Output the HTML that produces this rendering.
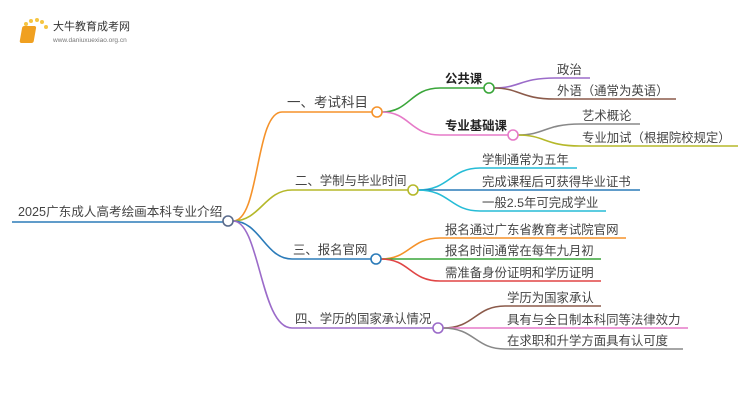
<!DOCTYPE html>
<html><head><meta charset="utf-8"><style>
body{margin:0;background:#fff;width:750px;height:410px;overflow:hidden}
text{font-family:"Liberation Sans","Noto Sans CJK SC",sans-serif;font-size:12.4px;fill:#444}
</style></head><body>
<svg width="750" height="410" viewBox="0 0 750 410" fill="none" stroke-width="1.6">
<!-- logo -->
<g>
<circle cx="24" cy="29" r="1.5" fill="#f5c542"/><circle cx="26" cy="24" r="2" fill="#f5c542"/><circle cx="31" cy="21" r="2" fill="#f5c542"/><circle cx="37" cy="20" r="2" fill="#f5c542"/><circle cx="42" cy="22" r="2" fill="#f5c542"/><circle cx="46" cy="27" r="2" fill="#f5c542"/>
<rect x="27" y="26" width="14" height="17" rx="2" fill="#f0a020" transform="skewX(-10)"/>
<text x="53" y="30" style="font-size:11px;fill:#333">大牛教育成考网</text>
<text x="53" y="42" style="font-size:6.5px;fill:#777">www.daniuxuexiao.org.cn</text>
</g>
<!-- root -->
<text x="18" y="216" style="font-size:12.6px">2025广东成人高考绘画本科专业介绍</text>
<path d="M12 222H223" stroke="#2b7bb9"/>
<!-- main branches -->
<path d="M233 221C260 221 255 112 282 112H372" stroke="#f5922a"/>
<path d="M233 221C260 221 265 190 292 190H408" stroke="#b5b82a"/>
<path d="M233 221C260 221 265 259 292 259H371" stroke="#2b7bb9"/>
<path d="M233 221C260 221 260 328 292 328H433" stroke="#9b6bc9"/>
<circle cx="228" cy="221" r="5" stroke="#5a6b8c" fill="#fff"/>
<text x="287" y="107" style="font-size:13.5px">一、考试科目</text>
<text x="295" y="185">二、学制与毕业时间</text>
<text x="293" y="254">三、报名官网</text>
<text x="295" y="323">四、学历的国家承认情况</text>
<!-- branch 1 -->
<path d="M382 112C410 112 410 88 440 88H484" stroke="#3aa63a"/>
<path d="M382 112C410 112 410 135 440 135H508" stroke="#e67ac8"/>
<circle cx="377" cy="112" r="5" stroke="#f5922a" fill="#fff"/>
<text x="445" y="83" style="font-weight:bold;fill:#222">公共课</text>
<text x="445" y="130" style="font-weight:bold;fill:#222">专业基础课</text>
<path d="M494 88C520 88 520 78 555 78H590" stroke="#9b6bc9"/>
<path d="M494 88C520 88 520 99 555 99H676" stroke="#8b5a4a"/>
<circle cx="489" cy="88" r="5" stroke="#3aa63a" fill="#fff"/>
<text x="557" y="74">政治</text>
<text x="557" y="95">外语（通常为英语）</text>
<path d="M518 135C545 135 545 124 580 124H640" stroke="#888"/>
<path d="M518 135C545 135 545 146 580 146H738" stroke="#b5b82a"/>
<circle cx="513" cy="135" r="5" stroke="#e67ac8" fill="#fff"/>
<text x="582" y="120">艺术概论</text>
<text x="582" y="142">专业加试（根据院校规定）</text>
<!-- branch 2 -->
<path d="M418 190C450 190 450 168 480 168H577" stroke="#26bcd6"/>
<path d="M418 190H640" stroke="#2b7bb9"/>
<path d="M418 190C450 190 450 211 480 211H606" stroke="#26bcd6"/>
<circle cx="413" cy="190" r="5" stroke="#b5b82a" fill="#fff"/>
<text x="482" y="164">学制通常为五年</text>
<text x="482" y="186">完成课程后可获得毕业证书</text>
<text x="482" y="207">一般2.5年可完成学业</text>
<!-- branch 3 -->
<path d="M381 259C410 259 410 238 440 238H626" stroke="#f5922a"/>
<path d="M381 259H601" stroke="#3aa63a"/>
<path d="M381 259C410 259 410 281 440 281H601" stroke="#e04545"/>
<circle cx="376" cy="259" r="5" stroke="#2b7bb9" fill="#fff"/>
<text x="445" y="234">报名通过广东省教育考试院官网</text>
<text x="445" y="255">报名时间通常在每年九月初</text>
<text x="445" y="277">需准备身份证明和学历证明</text>
<!-- branch 4 -->
<path d="M443 328C475 328 475 306 505 306H601" stroke="#8b5a4a"/>
<path d="M443 328H688" stroke="#e67ac8"/>
<path d="M443 328C475 328 475 349 505 349H683" stroke="#888"/>
<circle cx="438" cy="328" r="5" stroke="#9b6bc9" fill="#fff"/>
<text x="507" y="302">学历为国家承认</text>
<text x="507" y="324">具有与全日制本科同等法律效力</text>
<text x="507" y="345">在求职和升学方面具有认可度</text>
</svg>
</body></html>
